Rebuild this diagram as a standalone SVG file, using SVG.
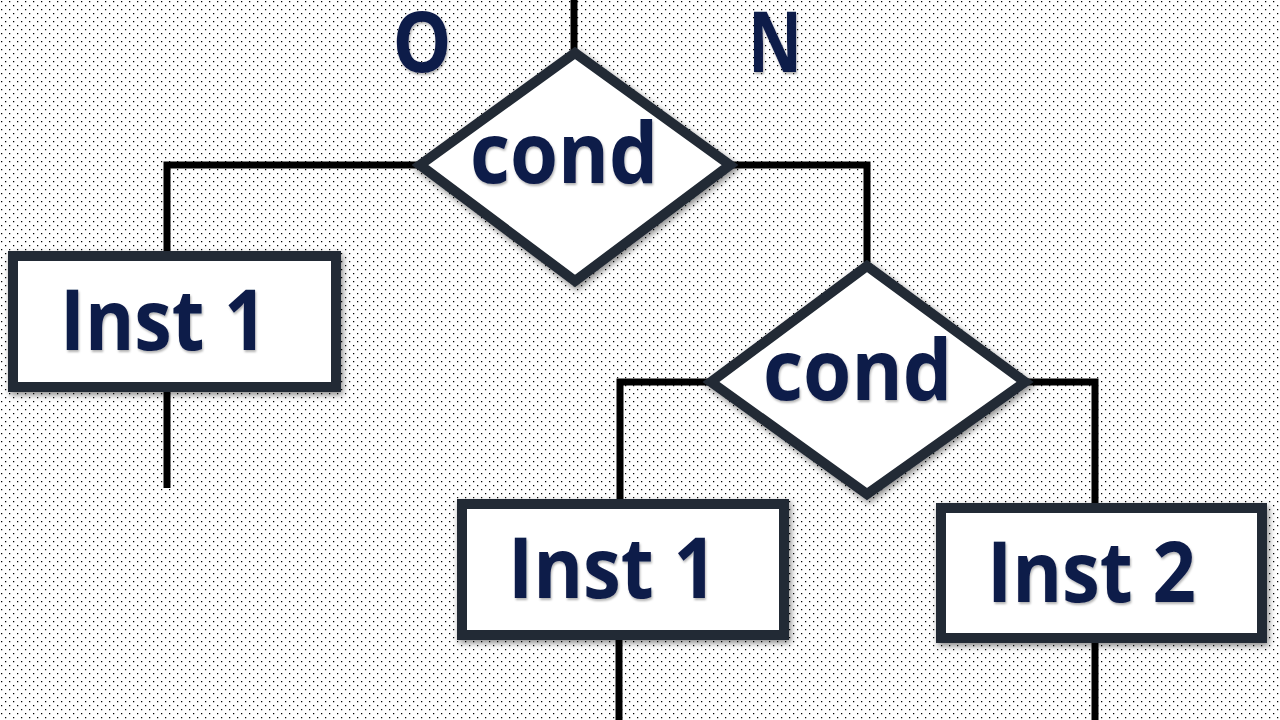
<svg xmlns="http://www.w3.org/2000/svg" width="1280" height="720" viewBox="0 0 1280 720">
<defs>
<pattern id="dots" width="8" height="8" patternUnits="userSpaceOnUse">
<rect width="8" height="8" fill="#ffffff"/>
<rect x="1" y="1" width="1.25" height="1.25" fill="#000"/>
<rect x="5" y="5" width="1.25" height="1.25" fill="#000"/>
</pattern>
<filter id="sh" x="-20%" y="-20%" width="140%" height="140%">
<feDropShadow dx="2" dy="3" stdDeviation="3" flood-color="#000" flood-opacity="0.45"/>
</filter>
<filter id="tsh" x="-10%" y="-10%" width="120%" height="130%">
<feDropShadow dx="1" dy="2" stdDeviation="1.2" flood-color="#000" flood-opacity="0.3"/>
</filter>
</defs>
<style>
.shape{fill:#ffffff;stroke:#222a35;stroke-width:10;stroke-linejoin:miter;filter:url(#sh)}
.lbl{font-family:"Open Sans","Liberation Sans",sans-serif;font-weight:bold;fill:#0c1a48;filter:url(#tsh)}
.big{font-size:84px}
.conn{fill:none;stroke:#000;stroke-width:7}
</style>
<rect width="1280" height="720" fill="url(#dots)"/>
<g id="connectors">
<path class="conn" d="M574 0 V50"/>
<path class="conn" d="M418 165 H167 V252"/>
<path class="conn" d="M167 390 V488"/>
<path class="conn" d="M732 165 H867 V262"/>
<path class="conn" d="M709 382 H620 V500"/>
<path class="conn" d="M619 638 V720"/>
<path class="conn" d="M1027 382 H1095 V505"/>
<path class="conn" d="M1095 640 V720"/>
</g>
<g id="label-O"><text class="lbl" x="422" y="72" font-size="84" text-anchor="middle" textLength="59" lengthAdjust="spacingAndGlyphs">O</text></g>
<g id="label-N"><text class="lbl" x="775" y="72" font-size="84" text-anchor="middle" textLength="54" lengthAdjust="spacingAndGlyphs">N</text></g>
<g id="cond1">
<polygon class="shape" points="575,53 730,165 575,281 420,165"/>
<text class="lbl big" x="470" y="183" textLength="188" lengthAdjust="spacingAndGlyphs">cond</text>
</g>
<g id="inst1-left">
<rect class="shape" x="13" y="256" width="323" height="131"/>
<text class="lbl big" x="60" y="350" textLength="207" lengthAdjust="spacingAndGlyphs">Inst 1</text>
</g>
<g id="cond2">
<polygon class="shape" points="867,266 1025,382 867,494 711,382"/>
<text class="lbl big" x="763" y="400" textLength="189" lengthAdjust="spacingAndGlyphs">cond</text>
</g>
<g id="inst1-mid">
<rect class="shape" x="462" y="504" width="322" height="131"/>
<text class="lbl big" x="508" y="598" textLength="209" lengthAdjust="spacingAndGlyphs">Inst 1</text>
</g>
<g id="inst2">
<rect class="shape" x="941" y="508" width="321" height="130"/>
<text class="lbl big" x="987" y="602" textLength="209" lengthAdjust="spacingAndGlyphs">Inst 2</text>
</g>
</svg>
